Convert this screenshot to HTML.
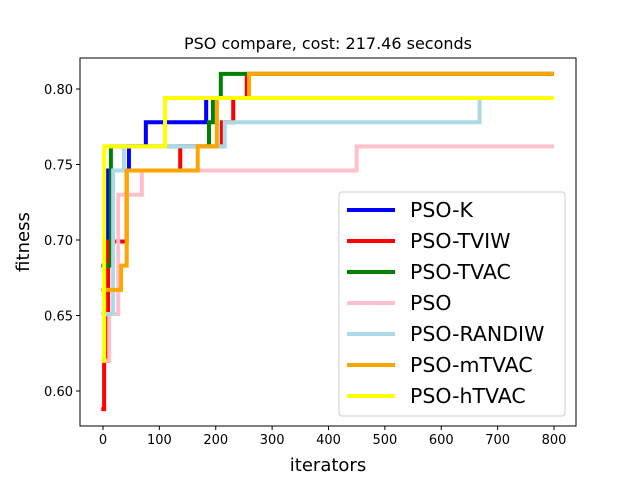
<!DOCTYPE html>
<html><head><meta charset="utf-8"><style>
body{margin:0;background:#fff}
svg{font-family:"DejaVu Sans","Liberation Sans",sans-serif}
</style></head><body>
<svg id="chart" width="640" height="480" xmlns="http://www.w3.org/2000/svg">
<rect width="640" height="480" fill="#fff"/>
<text x="328" y="49" text-anchor="middle" font-size="16">PSO compare, cost: 217.46 seconds</text>
<g id="plot"></g>
<rect x="80" y="58" width="496" height="368" fill="none" stroke="#000" stroke-width="1"/>
<g id="ticks"></g>
<text x="328" y="471" text-anchor="middle" font-size="18">iterators</text>
<text transform="translate(29,242) rotate(-90)" text-anchor="middle" font-size="18">fitness</text>
<g id="legend"></g>
</svg>
<script>
const seriesNames=["PSO-K","PSO-TVIW","PSO-TVAC","PSO","PSO-RANDIW","PSO-mTVAC","PSO-hTVAC"];
const seriesColors=["#0000ff","#ff0000","#008000","#ffc0cb","#add8e6","#ffa500","#ffff00"];
const kIters=[0,9,46,76,183];
const kVals=[0.683,0.746,0.762,0.778,0.794];
const tviwIters=[-3,2,9,42,137,211,231,255];
const tviwVals=[0.588,0.620,0.699,0.746,0.762,0.778,0.794,0.810];
const tvacIters=[-3,14,188,195,209];
const tvacVals=[0.683,0.762,0.778,0.794,0.810];
const psoIters=[-3,11,27,69,450];
const psoVals=[0.620,0.651,0.730,0.746,0.762];
const randiwIters=[-3,18,37,216,668];
const randiwVals=[0.651,0.746,0.762,0.778,0.794];
const mtvacIters=[-3,32,42,168,202,259];
const mtvacVals=[0.667,0.683,0.746,0.762,0.794,0.810];
const htvacIters=[-3,2,110];
const htvacVals=[0.620,0.762,0.794];
const xTicks=[0,100,200,300,400,500,600,700,800];
const yTicks=[0.60,0.65,0.70,0.75,0.80];
const xEnd=800;
const allIters=[kIters,tviwIters,tvacIters,psoIters,randiwIters,mtvacIters,htvacIters];
const allVals=[kVals,tviwVals,tvacVals,psoVals,randiwVals,mtvacVals,htvacVals];
const X=v=>103+(v)*(451/800);
const Y=v=>89+(0.80-v)*(302/0.20);
const NS="http://www.w3.org/2000/svg";
const plot=document.getElementById('plot');
allIters.forEach((its,i)=>{
  const vs=allVals[i];let d="";
  for(let j=0;j<its.length;j++){
    d+=(j===0?"M":"L")+X(its[j])+","+Y(vs[j]);
    const nx=j+1<its.length?its[j+1]:xEnd;
    d+="L"+X(nx)+","+Y(vs[j]);
  }
  const p=document.createElementNS(NS,'path');
  p.setAttribute('d',d);p.setAttribute('fill','none');
  p.setAttribute('stroke',seriesColors[i]);p.setAttribute('stroke-width','4');
  
  
  plot.appendChild(p);
});
const tk=document.getElementById('ticks');
xTicks.forEach(t=>{
  const l=document.createElementNS(NS,'line');
  l.setAttribute('x1',X(t));l.setAttribute('x2',X(t));l.setAttribute('y1',426);l.setAttribute('y2',430);l.setAttribute('stroke','#000');
  
  
  tk.appendChild(l);
  const s=document.createElementNS(NS,'text');
  s.setAttribute('x',X(t));s.setAttribute('y',444);s.setAttribute('text-anchor','middle');s.setAttribute('font-size','13');
  s.textContent=t;
  
  
  tk.appendChild(s);
});
yTicks.forEach(t=>{
  const l=document.createElementNS(NS,'line');
  l.setAttribute('x1',76);l.setAttribute('x2',80);l.setAttribute('y1',Y(t));l.setAttribute('y2',Y(t));l.setAttribute('stroke','#000');
  
  
  tk.appendChild(l);
  const s=document.createElementNS(NS,'text');
  s.setAttribute('x',73);s.setAttribute('y',Y(t)+5);s.setAttribute('text-anchor','end');s.setAttribute('font-size','13');
  s.textContent=t.toFixed(2);
  
  
  tk.appendChild(s);
});
const lg=document.getElementById('legend');
const box=document.createElementNS(NS,'rect');
box.setAttribute('x',339);box.setAttribute('y',192);box.setAttribute('width',226);box.setAttribute('height',224);
box.setAttribute('rx',3);box.setAttribute('fill','#fff');box.setAttribute('fill-opacity','0.8');box.setAttribute('stroke','#ccc');


lg.appendChild(box);
seriesNames.forEach((n,i)=>{
  const y=210+i*31;
  const g=document.createElementNS(NS,'g');
  
  
  const l=document.createElementNS(NS,'line');
  l.setAttribute('x1',347);l.setAttribute('x2',395);l.setAttribute('y1',y);l.setAttribute('y2',y);
  l.setAttribute('stroke',seriesColors[i]);l.setAttribute('stroke-width','4');
  g.appendChild(l);
  const s=document.createElementNS(NS,'text');
  s.setAttribute('x',410);s.setAttribute('y',y+7);s.setAttribute('font-size','20.5');
  s.textContent=n;
  g.appendChild(s);
  lg.appendChild(g);
});
</script>
</body></html>
